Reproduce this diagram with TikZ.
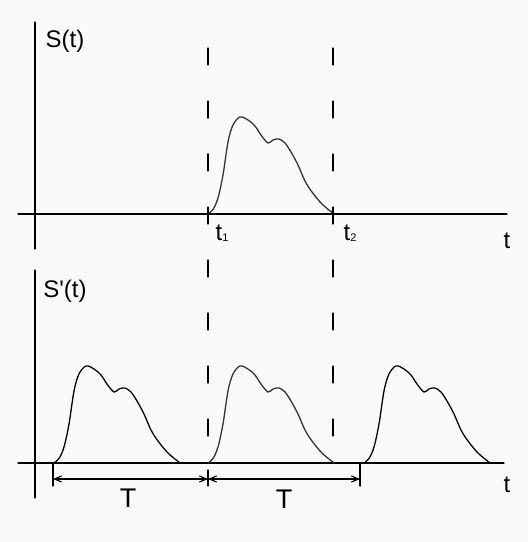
\documentclass[tikz,border=0pt]{standalone}
\usepackage{fontspec}
\setmainfont{Liberation Sans}[Ligatures=TeXOff]
\usetikzlibrary{arrows.meta}
\definecolor{bgcol}{RGB}{250,250,250}
\newcommand{\sub}[1]{\raisebox{-1pt}{\fontsize{11}{11}\selectfont #1}}
\tikzset{
  axis/.style={line width=1.3pt},
  guide/.style={line width=1.2pt,dash pattern=on 17pt off 36pt},
  curve/.style={line width=1.3pt,smooth,tension=0.55},
  lbl/.style={font=\fontsize{24}{24}\selectfont,anchor=base,inner sep=0pt},
  big/.style={font=\fontsize{27}{27}\selectfont,anchor=base,inner sep=0pt},
  pulse/.pic={\draw[curve,#1] plot coordinates{(0,0) (5,-4.5) (10,-16) (15,-39) (20,-72) (25,-89) (32,-97) (40,-94) (47,-88) (53,-79) (60,-71) (65,-74) (71,-75) (77,-71) (83,-62) (90,-49) (97,-33) (104,-22) (114,-10) (126,0)};},
  pulse/.default=black
}
\begin{document}
\begin{tikzpicture}[x=1pt,y=-1pt,line join=round,line cap=round,>={Straight Barb[length=7pt,width=6pt]}]
		\fill[bgcol] (0,0) rectangle (528,542);
		\useasboundingbox (0,0) rectangle (528,542);
		% top graph
		\draw[axis] (35,22)--(35,249);
		\draw[axis] (18,214)--(507,214);
		\node[lbl] (s) at (65,47) {S(t)};
		\node[lbl] (t) at (507,248) {t};
		\node[lbl] (t1) at (222,240) {t\sub{1}};
		\node[lbl] (t2) at (350,240) {t\sub{2}};
		\pic at (208,214) {pulse=black!80};
		% bottom graph
		\draw[axis] (35,270)--(35,498);
		\draw[axis] (18,463)--(504,463);
		\node[lbl] (sp) at (65,297) {S'(t)};
		\node[lbl] (tt) at (507,492) {t};
		\pic at (54,463) {pulse};
		\pic at (208,463) {pulse=black!80};
		\pic at (364,463) {pulse};
		% guides
		\draw[guide] (208,48)--(208,463);
		\draw[guide] (333,48)--(333,463);
		% period marks
		\coordinate (a) at (53,479);
		\coordinate (b) at (208,479);
		\coordinate (c) at (360,479);
		\draw[line width=1.2pt] (53,463)--(53,486);
		\draw[line width=1.2pt] (208,470)--(208,486);
		\draw[line width=1.2pt] (360,463)--(360,486);
		\draw[line width=1.2pt,<->] (a)--(b);
		\draw[line width=1.2pt,<->] (b)--(c);
		\node[big] (T1) at (128,507) {T};
		\node[big] (T2) at (284,508) {T};
\end{tikzpicture}
\end{document}
